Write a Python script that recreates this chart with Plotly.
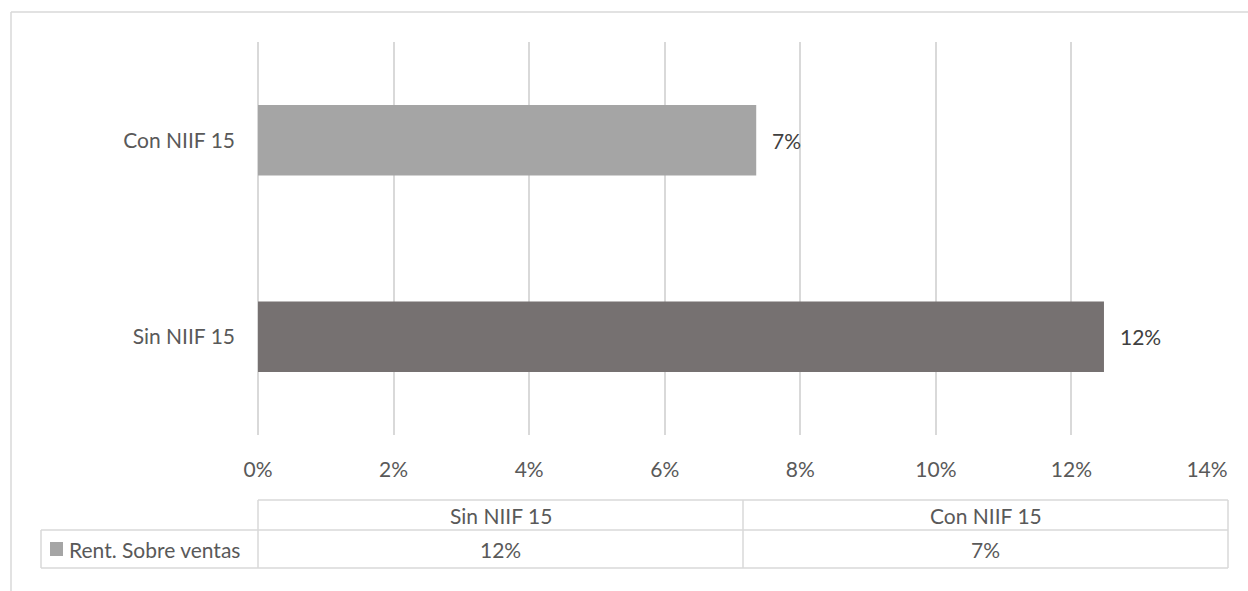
import plotly.graph_objects as go

categories = ["Sin NIIF 15", "Con NIIF 15"]
values = [12.48, 7.35]
bar_colors = ["#767171", "#A5A5A5"]
series_name = "Rent. Sobre ventas"
legend_color = "#A5A5A5"
x_ticks = [0, 2, 4, 6, 8, 10, 12, 14]

W, H = 1248, 591
L, R, T, B = 258, 1207, 42, 435  # plot area in pixels

FONT = "Lato"
TXT = "#595959"
GRID = "#D9D9D9"
FS = 21


def px(xp):
    return (xp - L) / (R - L)


def py(yp):
    return (B - yp) / (B - T)


fig = go.Figure()
fig.add_trace(go.Bar(
    y=categories, x=values, orientation="h",
    marker=dict(color=bar_colors, line=dict(width=0)),
    width=0.36, showlegend=False, hoverinfo="skip",
))

annotations = []
for c, v in zip(categories, values):
    annotations.append(dict(
        x=v, y=c, xref="x", yref="y", text=f"{round(v):.0f}%",
        showarrow=False, xanchor="left", xshift=14,
        font=dict(family=FONT, size=FS, color="#404040"),
    ))

shapes = []
line = dict(color=GRID, width=1.5)
# outer chart border (cropped)
shapes.append(dict(type="line", xref="paper", yref="paper",
                   x0=px(11), x1=px(1260), y0=py(12), y1=py(12), line=line))
shapes.append(dict(type="line", xref="paper", yref="paper",
                   x0=px(11), x1=px(11), y0=py(12), y1=py(600), line=line))

# data table
tbl_l, tbl_r = 258, 1228
hdr_t, row_t, row_b = 500, 530, 568
leg_l = 41
n = len(categories)
colw = (tbl_r - tbl_l) / n
tline = dict(color=GRID, width=1.5)
shapes.append(dict(type="line", xref="paper", yref="paper",
                   x0=px(tbl_l), x1=px(tbl_r), y0=py(hdr_t), y1=py(hdr_t), line=tline))
shapes.append(dict(type="line", xref="paper", yref="paper",
                   x0=px(leg_l), x1=px(tbl_r), y0=py(row_t), y1=py(row_t), line=tline))
shapes.append(dict(type="line", xref="paper", yref="paper",
                   x0=px(leg_l), x1=px(tbl_r), y0=py(row_b), y1=py(row_b), line=tline))
shapes.append(dict(type="line", xref="paper", yref="paper",
                   x0=px(leg_l), x1=px(leg_l), y0=py(row_t), y1=py(row_b), line=tline))
for i in range(n + 1):
    xx = tbl_l + i * colw
    shapes.append(dict(type="line", xref="paper", yref="paper",
                       x0=px(xx), x1=px(xx), y0=py(hdr_t), y1=py(row_b), line=tline))
for i, (c, v) in enumerate(zip(categories, values)):
    cx = tbl_l + (i + 0.5) * colw
    annotations.append(dict(x=px(cx), y=py((hdr_t + row_t) / 2), xref="paper", yref="paper",
                            text=c, showarrow=False, xanchor="center", yanchor="middle",
                            font=dict(family=FONT, size=FS, color=TXT)))
    annotations.append(dict(x=px(cx), y=py((row_t + row_b) / 2), xref="paper", yref="paper",
                            text=f"{round(v):.0f}%", showarrow=False, xanchor="center", yanchor="middle",
                            font=dict(family=FONT, size=FS, color=TXT)))
# legend key + series name
shapes.append(dict(type="rect", xref="paper", yref="paper",
                   x0=px(50), x1=px(63), y0=py(542), y1=py(556),
                   fillcolor=legend_color, line=dict(width=0)))
annotations.append(dict(x=px(67), y=py((row_t + row_b) / 2), xref="paper", yref="paper",
                        text=series_name, showarrow=False, xanchor="left", yanchor="middle",
                        font=dict(family=FONT, size=FS, color=TXT)))

fig.update_layout(
    width=W, height=H,
    margin=dict(l=L, r=W - R, t=T, b=H - B, pad=0),
    paper_bgcolor="white", plot_bgcolor="white",
    font=dict(family=FONT, size=FS, color=TXT),
    bargap=0.64,
    xaxis=dict(range=[0, 14], tickvals=x_ticks, ticktext=[f"{t}%" for t in x_ticks],
               showgrid=True, gridcolor=GRID, gridwidth=1.5,
               zeroline=True, zerolinecolor=GRID, zerolinewidth=1.5,
               showline=False, ticks="", ticklabelstandoff=20, fixedrange=True),
    yaxis=dict(categoryorder="array", categoryarray=categories, showgrid=False,
               zeroline=False, showline=False, ticks="", ticklabelstandoff=22,
               fixedrange=True),
    shapes=shapes, annotations=annotations,
)

fig.write_html("out.html")
